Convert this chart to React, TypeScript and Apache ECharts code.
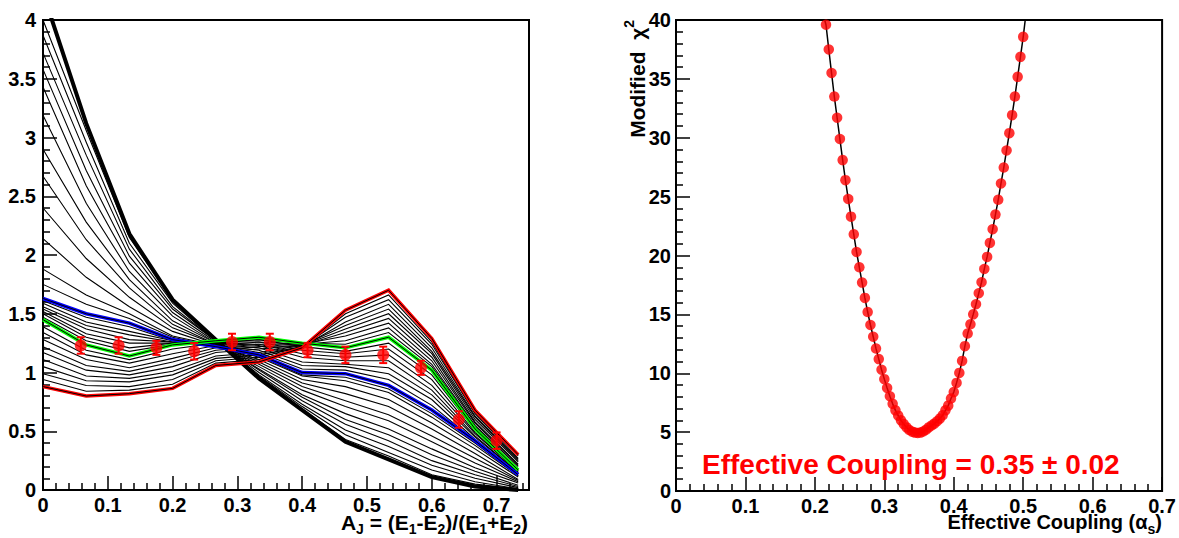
import React, { useEffect, useRef } from "react";
import * as echarts from "echarts";

const FONT = "'Liberation Sans', Arial, Helvetica, sans-serif";

// ---------- Left panel: A_J distributions ----------
const binEdges = [0, 0.0667, 0.1333, 0.2, 0.2667, 0.3333, 0.4, 0.4667, 0.5333, 0.6, 0.6667, 0.7333];

const redCurve = [0.88, 0.8, 0.82, 0.865, 1.06, 1.09, 1.21, 1.53, 1.7, 1.29, 0.68, 0.3];
const greenCurve = [1.45, 1.235, 1.14, 1.235, 1.27, 1.3, 1.25, 1.21, 1.3, 1.02, 0.52, 0.17];
const blueCurve = [1.63, 1.5, 1.42, 1.28, 1.22, 1.15, 1.0, 0.99, 0.89, 0.68, 0.42, 0.13];
const topCurve = [4.23, 3.12, 2.18, 1.62, 1.28, 0.95, 0.68, 0.41, 0.26, 0.11, 0.03, 0.0];

// curves between red and green
const familyLow = [
  [0.94, 0.84, 0.85, 0.9, 1.08, 1.11, 1.21, 1.5, 1.66, 1.26, 0.66, 0.29],
  [0.99, 0.89, 0.88, 0.94, 1.1, 1.13, 1.22, 1.47, 1.62, 1.24, 0.65, 0.27],
  [1.05, 0.93, 0.92, 0.98, 1.12, 1.15, 1.22, 1.43, 1.58, 1.21, 0.63, 0.26],
  [1.11, 0.97, 0.95, 1.01, 1.14, 1.17, 1.23, 1.4, 1.54, 1.18, 0.62, 0.25],
  [1.17, 1.02, 0.98, 1.05, 1.17, 1.2, 1.23, 1.37, 1.5, 1.16, 0.6, 0.24],
  [1.22, 1.06, 1.01, 1.09, 1.19, 1.22, 1.23, 1.34, 1.46, 1.13, 0.58, 0.22],
  [1.28, 1.11, 1.04, 1.12, 1.21, 1.24, 1.24, 1.31, 1.42, 1.1, 0.57, 0.21],
  [1.34, 1.15, 1.08, 1.16, 1.23, 1.26, 1.24, 1.27, 1.38, 1.07, 0.55, 0.2],
  [1.39, 1.19, 1.11, 1.2, 1.25, 1.28, 1.25, 1.24, 1.34, 1.05, 0.54, 0.18],
];

// curves between green and blue
const familyMid = [
  [1.47, 1.27, 1.18, 1.24, 1.26, 1.28, 1.22, 1.18, 1.25, 0.98, 0.51, 0.17],
  [1.5, 1.3, 1.21, 1.25, 1.26, 1.26, 1.19, 1.16, 1.2, 0.94, 0.49, 0.16],
  [1.52, 1.33, 1.25, 1.25, 1.25, 1.24, 1.16, 1.13, 1.15, 0.89, 0.48, 0.16],
  [1.54, 1.37, 1.28, 1.26, 1.25, 1.23, 1.13, 1.1, 1.1, 0.85, 0.46, 0.15],
  [1.56, 1.4, 1.32, 1.26, 1.24, 1.21, 1.09, 1.07, 1.04, 0.81, 0.45, 0.15],
  [1.59, 1.43, 1.35, 1.27, 1.23, 1.19, 1.06, 1.05, 0.99, 0.77, 0.43, 0.14],
  [1.61, 1.47, 1.39, 1.27, 1.23, 1.17, 1.03, 1.02, 0.94, 0.72, 0.42, 0.14],
];

// curves between blue and the top (thick) curve
const familyHigh = [
  [1.75, 1.58, 1.46, 1.3, 1.22, 1.14, 0.98, 0.96, 0.86, 0.65, 0.4, 0.12],
  [1.88, 1.66, 1.5, 1.31, 1.23, 1.13, 0.97, 0.93, 0.83, 0.62, 0.38, 0.12],
  [2.14, 1.81, 1.56, 1.35, 1.23, 1.11, 0.94, 0.88, 0.77, 0.57, 0.35, 0.11],
  [2.4, 1.97, 1.64, 1.38, 1.24, 1.09, 0.91, 0.82, 0.71, 0.52, 0.31, 0.09],
  [2.67, 2.13, 1.72, 1.41, 1.24, 1.07, 0.88, 0.76, 0.64, 0.46, 0.27, 0.08],
  [2.9, 2.28, 1.79, 1.44, 1.25, 1.05, 0.85, 0.71, 0.59, 0.41, 0.23, 0.07],
  [3.19, 2.44, 1.86, 1.48, 1.25, 1.03, 0.81, 0.65, 0.52, 0.35, 0.19, 0.06],
  [3.43, 2.59, 1.93, 1.51, 1.26, 1.02, 0.79, 0.6, 0.47, 0.3, 0.16, 0.04],
  [3.58, 2.72, 1.99, 1.54, 1.27, 1.0, 0.76, 0.56, 0.42, 0.25, 0.13, 0.03],
  [3.72, 2.85, 2.05, 1.56, 1.27, 0.98, 0.73, 0.51, 0.37, 0.21, 0.1, 0.02],
  [3.87, 2.96, 2.1, 1.59, 1.27, 0.97, 0.71, 0.47, 0.32, 0.17, 0.07, 0.01],
  [4.0, 3.06, 2.15, 1.61, 1.28, 0.96, 0.69, 0.43, 0.29, 0.13, 0.05, 0.01],
];

// measured points
const dataX = [0.0583, 0.1167, 0.175, 0.2333, 0.2917, 0.35, 0.4083, 0.4667, 0.525, 0.5833, 0.6417, 0.7];
const dataY = [1.23, 1.23, 1.21, 1.18, 1.26, 1.26, 1.19, 1.15, 1.15, 1.04, 0.6, 0.42];
const dataErr = [0.07, 0.07, 0.06, 0.07, 0.07, 0.07, 0.06, 0.07, 0.07, 0.06, 0.07, 0.07];

// ---------- Right panel: modified chi2 scan ----------
const couplingValues = [
  0.216, 0.22, 0.224, 0.228, 0.232, 0.236, 0.24, 0.244, 0.248, 0.252, 0.256, 0.26,
  0.264, 0.268, 0.272, 0.276, 0.28, 0.284, 0.288, 0.292, 0.296, 0.3, 0.304, 0.308,
  0.312, 0.316, 0.32, 0.324, 0.328, 0.332, 0.336, 0.34, 0.344, 0.348, 0.352, 0.356,
  0.36, 0.364, 0.368, 0.372, 0.376, 0.38, 0.384, 0.388, 0.392, 0.396, 0.4, 0.404,
  0.408, 0.412, 0.416, 0.42, 0.424, 0.428, 0.432, 0.436, 0.44, 0.444, 0.448, 0.452,
  0.456, 0.46, 0.464, 0.468, 0.472, 0.476, 0.48, 0.484, 0.488, 0.492, 0.496, 0.5,
];
const chi2Values = [
  39.6, 37.5, 35.5, 33.5, 31.7, 29.9, 28.1, 26.4, 24.8, 23.3, 21.8, 20.3,
  19.0, 17.7, 16.4, 15.2, 14.1, 13.1, 12.1, 11.2, 10.3, 9.5, 8.75, 8.05,
  7.4, 6.85, 6.4, 6.0, 5.68, 5.4, 5.18, 5.04, 4.96, 4.93, 4.96, 5.05,
  5.2, 5.4, 5.56, 5.72, 5.93, 6.15, 6.43, 6.85, 7.25, 7.85, 8.4, 9.18,
  10.03, 11.05, 12.3, 13.37, 14.16, 15.0, 15.86, 16.8, 17.73, 18.86, 19.88, 21.07,
  22.23, 23.48, 24.73, 26.12, 27.47, 28.92, 30.39, 31.92, 33.5, 35.17, 36.87, 38.57,
];
// where the fitted curve leaves the frame at the top
const fitStart = [0.2141, 40];
const fitEnd = [0.5029, 40];

const resultLabel = "Effective Coupling = 0.35 \u00b1 0.02";

function curveSeries(values: number[], color: string, width: number, z: number) {
  return {
    type: "line",
    xAxisIndex: 0,
    yAxisIndex: 0,
    data: binEdges.map((x, i) => [x, values[i]]),
    symbol: "none",
    silent: true,
    clip: true,
    z,
    lineStyle: { color, width, join: "miter" },
  };
}

function axisCommon(labelMargin: number) {
  return {
    axisLine: { show: true, onZero: false, lineStyle: { color: "#000", width: 2 } },
    axisTick: { show: true, inside: true, length: 14, lineStyle: { color: "#000", width: 1.5 } },
    minorTick: { show: true, splitNumber: 5, length: 7, lineStyle: { color: "#000", width: 1.5 } },
    splitLine: { show: false },
    axisLabel: {
      color: "#000",
      fontSize: 20,
      fontWeight: "bold",
      fontFamily: FONT,
      margin: labelMargin,
      lineHeight: 18,
    },
  };
}

export default function App() {
  const ref = useRef<HTMLDivElement>(null);

  useEffect(() => {
    document.body.style.margin = "0";
    if (!ref.current) return;
    const chart = echarts.init(ref.current, undefined, { renderer: "svg" });

    const series: any[] = [];
    familyLow.forEach((c) => series.push(curveSeries(c, "#000", 1.1, 2)));
    familyMid.forEach((c) => series.push(curveSeries(c, "#000", 1.1, 2)));
    familyHigh.forEach((c) => series.push(curveSeries(c, "#000", 1.1, 2)));
    series.push(curveSeries(topCurve, "#000", 4, 3));
    series.push(curveSeries(blueCurve, "#0000ff", 3.5, 4));
    series.push(curveSeries(blueCurve, "#000", 1, 4));
    series.push(curveSeries(greenCurve, "#00ff00", 3.5, 4));
    series.push(curveSeries(greenCurve, "#000", 1, 4));
    series.push(curveSeries(redCurve, "#ff0000", 3.5, 4));
    series.push(curveSeries(redCurve, "#000", 1, 4));

    series.push({
      type: "custom",
      xAxisIndex: 0,
      yAxisIndex: 0,
      z: 6,
      silent: true,
      data: dataX.map((x, i) => [x, dataY[i], dataErr[i]]),
      renderItem: (_params: any, api: any) => {
        const x = api.value(0);
        const y = api.value(1);
        const e = api.value(2);
        const top = api.coord([x, y + e]);
        const bot = api.coord([x, y - e]);
        const cw = 4;
        const st = { stroke: "#ff0000", lineWidth: 2 };
        return {
          type: "group",
          children: [
            { type: "line", shape: { x1: top[0], y1: top[1], x2: bot[0], y2: bot[1] }, style: st },
            { type: "line", shape: { x1: top[0] - cw, y1: top[1], x2: top[0] + cw, y2: top[1] }, style: st },
            { type: "line", shape: { x1: bot[0] - cw, y1: bot[1], x2: bot[0] + cw, y2: bot[1] }, style: st },
          ],
        };
      },
    });
    series.push({
      type: "scatter",
      xAxisIndex: 0,
      yAxisIndex: 0,
      z: 7,
      silent: true,
      symbol: "circle",
      symbolSize: 12,
      itemStyle: { color: "#ff0000" },
      data: dataX.map((x, i) => [x, dataY[i]]),
    });

    // right panel
    series.push({
      type: "line",
      xAxisIndex: 1,
      yAxisIndex: 1,
      z: 2,
      silent: true,
      symbol: "none",
      clip: true,
      lineStyle: { color: "#000", width: 1.5 },
      data: [fitStart, ...couplingValues.map((a, i) => [a, chi2Values[i]]), fitEnd],
    });
    series.push({
      type: "scatter",
      xAxisIndex: 1,
      yAxisIndex: 1,
      z: 3,
      silent: true,
      symbol: "circle",
      symbolSize: 10.5,
      itemStyle: { color: "#ff0000" },
      data: couplingValues.map((a, i) => [a, chi2Values[i]]),
    });

    const gridStyle = { show: true, borderColor: "#000", borderWidth: 2, backgroundColor: "transparent" };

    chart.setOption({
      animation: false,
      backgroundColor: "#fff",
      grid: [
        { left: 43, top: 20, width: 486, height: 470, ...gridStyle },
        { left: 676, top: 20, width: 487, height: 471, ...gridStyle },
      ],
      xAxis: [
        {
          type: "value",
          gridIndex: 0,
          min: 0,
          max: 0.75,
          interval: 0.1,
          ...axisCommon(6),
          axisLabel: { ...axisCommon(6).axisLabel, showMaxLabel: false },
        },
        { type: "value", gridIndex: 1, min: 0, max: 0.7, interval: 0.1, ...axisCommon(6) },
      ],
      yAxis: [
        { type: "value", gridIndex: 0, min: 0, max: 4, interval: 0.5, ...axisCommon(7) },
        { type: "value", gridIndex: 1, min: 0, max: 40, interval: 5, ...axisCommon(5) },
      ],
      series,
      graphic: [
        {
          type: "text",
          x: 528,
          y: 536,
          z: 10,
          style: {
            text: "A{sub|J} = (E{sub|1}-E{sub|2})/(E{sub|1}+E{sub|2})",
            align: "right",
            verticalAlign: "bottom",
            fill: "#000",
            font: `bold 21px ${FONT}`,
            lineHeight: 28,
            rich: {
              sub: { fontSize: 14, fontWeight: "bold", fontFamily: FONT, lineHeight: 14, verticalAlign: "bottom", fill: "#000" },
            },
          },
        },
        {
          type: "text",
          x: 1162,
          y: 536,
          z: 10,
          style: {
            text: "Effective Coupling (\u03b1{sub|s})",
            align: "right",
            verticalAlign: "bottom",
            fill: "#000",
            font: `bold 20px ${FONT}`,
            lineHeight: 28,
            rich: {
              sub: { fontSize: 14, fontWeight: "bold", fontFamily: FONT, lineHeight: 14, verticalAlign: "bottom", fill: "#000" },
            },
          },
        },
        {
          type: "text",
          x: 637,
          y: 20,
          rotation: Math.PI / 2,
          z: 10,
          style: {
            text: "Modified  \u03c7{sup|2}",
            align: "right",
            verticalAlign: "middle",
            fill: "#000",
            font: `bold 21px ${FONT}`,
            lineHeight: 30,
            rich: {
              sup: { fontSize: 14, fontWeight: "bold", fontFamily: FONT, lineHeight: 14, verticalAlign: "top", fill: "#000" },
            },
          },
        },
        {
          type: "text",
          x: 702,
          y: 464,
          z: 10,
          style: {
            text: resultLabel,
            align: "left",
            verticalAlign: "middle",
            fill: "#ff0000",
            font: `bold 28px ${FONT}`,
          },
        },
      ],
    });

    return () => chart.dispose();
  }, []);

  return <div ref={ref} style={{ width: 1179, height: 538 }} />;
}
